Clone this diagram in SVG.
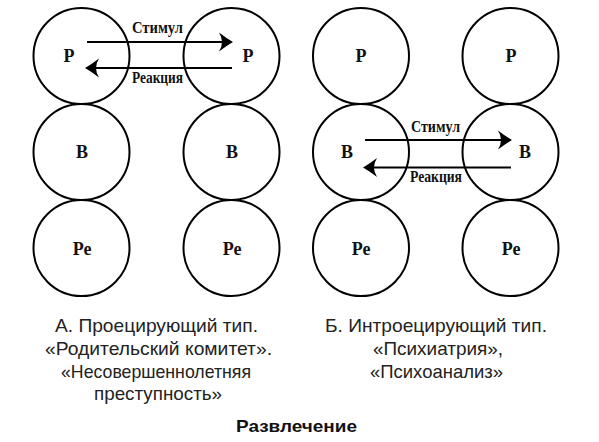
<svg xmlns="http://www.w3.org/2000/svg" width="599" height="442" viewBox="0 0 599 442">
<style>
  .c { fill: none; stroke: #000; stroke-width: 2; }
  .lbl { font-family: "Liberation Serif", "Times New Roman", serif; font-size: 18px; font-weight: bold; text-anchor: middle; fill: #111; }
  .al { font-family: "Liberation Serif", "Times New Roman", serif; font-size: 16px; font-weight: bold; fill: #111; }
  .ln { stroke: #000; stroke-width: 2; fill: none; }
  .cap { font-family: "Liberation Sans", Arial, sans-serif; font-size: 18.5px; fill: #222; }
  .ttl { font-family: "Liberation Sans", Arial, sans-serif; font-size: 17px; font-weight: bold; fill: #111; }
</style>
<defs>
  <marker id="ah" viewBox="0 0 14 20" refX="7" refY="10" markerWidth="14" markerHeight="20" markerUnits="userSpaceOnUse" orient="auto">
    <path d="M14,10 Q7,6 0,0.5 Q6,10 0,19.5 Q7,14 14,10 Z" fill="#000"/>
  </marker>
</defs>
<rect width="599" height="442" fill="#fff"/>

<!-- Group A -->
<g id="A-P1"><circle class="c" cx="81.5" cy="56" r="48"/><text class="lbl" x="69" y="62">Р</text></g>
<g id="A-B1"><circle class="c" cx="81.5" cy="152" r="48"/><text class="lbl" x="82" y="158">В</text></g>
<g id="A-Pe1"><circle class="c" cx="81.5" cy="248" r="48"/><text class="lbl" x="82" y="255">Ре</text></g>
<g id="A-P2"><circle class="c" cx="231.5" cy="56" r="48"/><text class="lbl" x="248" y="62">Р</text></g>
<g id="A-B2"><circle class="c" cx="231.5" cy="152" r="48"/><text class="lbl" x="232" y="158">В</text></g>
<g id="A-Pe2"><circle class="c" cx="231.5" cy="248" r="48"/><text class="lbl" x="232" y="255">Ре</text></g>

<!-- Group B -->
<g id="B-P1"><circle class="c" cx="361" cy="56" r="48"/><text class="lbl" x="361" y="62">Р</text></g>
<g id="B-B1"><circle class="c" cx="361" cy="152" r="48"/><text class="lbl" x="347" y="158">В</text></g>
<g id="B-Pe1"><circle class="c" cx="361" cy="248" r="48"/><text class="lbl" x="361" y="255">Ре</text></g>
<g id="B-P2"><circle class="c" cx="510.5" cy="56" r="48"/><text class="lbl" x="511" y="62">Р</text></g>
<g id="B-B2"><circle class="c" cx="510.5" cy="152" r="48"/><text class="lbl" x="525" y="158">В</text></g>
<g id="B-Pe2"><circle class="c" cx="510.5" cy="248" r="48"/><text class="lbl" x="511" y="255">Ре</text></g>

<g id="connectors">
  <line class="ln" x1="87" y1="42" x2="226" y2="42" marker-end="url(#ah)"/>
  <line class="ln" x1="232" y1="68" x2="92" y2="68" marker-end="url(#ah)"/>
  <text class="al" x="132" y="33" textLength="51" lengthAdjust="spacingAndGlyphs">Стимул</text>
  <text class="al" x="132" y="83" textLength="51" lengthAdjust="spacingAndGlyphs">Реакция</text>

  <line class="ln" x1="365" y1="140" x2="505" y2="140" marker-end="url(#ah)"/>
  <line class="ln" x1="511" y1="167.5" x2="370" y2="167.5" marker-end="url(#ah)"/>
  <text class="al" x="411" y="132" textLength="49" lengthAdjust="spacingAndGlyphs">Стимул</text>
  <text class="al" x="410" y="182" textLength="52" lengthAdjust="spacingAndGlyphs">Реакция</text>
</g>

<g id="captions">
  <text class="cap" x="55" y="332" textLength="203" lengthAdjust="spacingAndGlyphs">А. Проецирующий тип.</text>
  <text class="cap" x="45" y="355" textLength="227" lengthAdjust="spacingAndGlyphs">«Родительский комитет».</text>
  <text class="cap" x="61" y="378" textLength="190" lengthAdjust="spacingAndGlyphs">«Несовершеннолетняя</text>
  <text class="cap" x="94" y="400" textLength="128" lengthAdjust="spacingAndGlyphs">преступность»</text>
  <text class="cap" x="325" y="332" textLength="222" lengthAdjust="spacingAndGlyphs">Б. Интроецирующий тип.</text>
  <text class="cap" x="373" y="355" textLength="130" lengthAdjust="spacingAndGlyphs">«Психиатрия»,</text>
  <text class="cap" x="370" y="378" textLength="133" lengthAdjust="spacingAndGlyphs">«Психоанализ»</text>
  <text class="ttl" x="236" y="432" textLength="121" lengthAdjust="spacingAndGlyphs">Развлечение</text>
</g>
</svg>
